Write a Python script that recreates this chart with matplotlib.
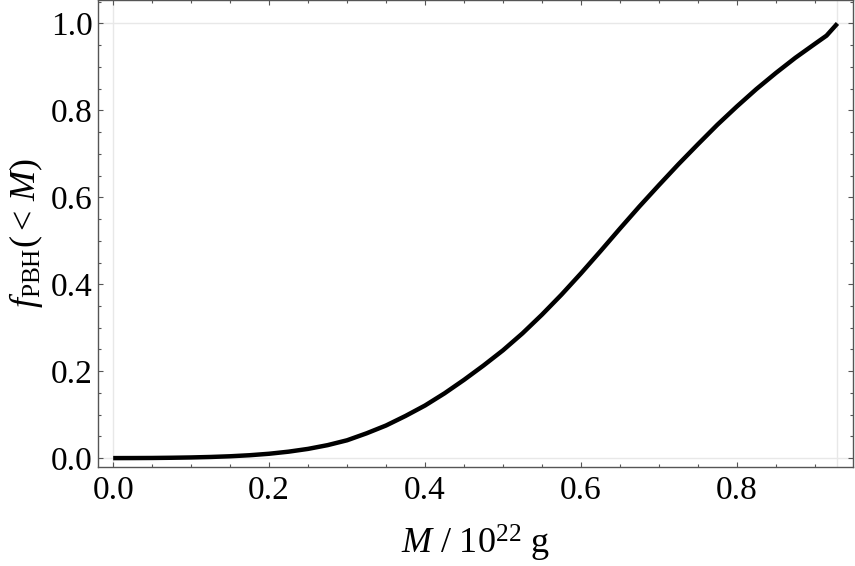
import matplotlib
matplotlib.use('Agg')
import matplotlib.pyplot as plt
import matplotlib.ticker as ticker

plt.rcParams['font.family'] = ['Liberation Serif', 'DejaVu Serif']
plt.rcParams['mathtext.fontset'] = 'custom'
plt.rcParams['mathtext.rm'] = 'Liberation Serif'
plt.rcParams['mathtext.it'] = 'Liberation Serif:italic'

# cumulative PBH fraction
mass = [0.000, 0.025, 0.050, 0.075, 0.100, 0.125, 0.150, 0.175, 0.200, 0.225,
        0.250, 0.275, 0.300, 0.325, 0.350, 0.375, 0.400, 0.425, 0.450, 0.475,
        0.500, 0.525, 0.550, 0.575, 0.600, 0.625, 0.650, 0.675, 0.700, 0.725,
        0.750, 0.775, 0.800, 0.825, 0.850, 0.875, 0.900, 0.915, 0.929]
f_pbh = [0.0, 0.0001, 0.0003, 0.0008, 0.0015, 0.0026, 0.0042, 0.0066, 0.0100, 0.0148,
         0.0212, 0.0298, 0.0410, 0.0570, 0.0750, 0.0970, 0.1210, 0.1490, 0.1800, 0.2130,
         0.2480, 0.2870, 0.3300, 0.3760, 0.4250, 0.4760, 0.5280, 0.5790, 0.6280, 0.6760,
         0.7220, 0.7670, 0.8090, 0.8490, 0.8860, 0.9210, 0.9530, 0.9720, 1.0000]
grid_x = [0.0, 0.929]
grid_y = [0.0, 1.0]

fig = plt.figure(figsize=(8.55, 5.66), dpi=100)
ax = fig.add_axes([0.1146, 0.1749, 0.8831, 0.8251])

for gx in grid_x:
    ax.axvline(gx, color='#e8e8e8', lw=1.0, zorder=0)
for gy in grid_y:
    ax.axhline(gy, color='#e8e8e8', lw=1.0, zorder=0)

ax.plot(mass, f_pbh, color='black', lw=3.2, solid_capstyle='butt', solid_joinstyle='round')

ax.set_xlim(-0.0195, 0.949)
ax.set_ylim(-0.0205, 1.054)
ax.xaxis.set_major_locator(ticker.MultipleLocator(0.2))
ax.xaxis.set_minor_locator(ticker.MultipleLocator(0.05))
ax.yaxis.set_major_locator(ticker.MultipleLocator(0.2))
ax.yaxis.set_minor_locator(ticker.MultipleLocator(0.05))
ax.xaxis.set_major_formatter(ticker.FormatStrFormatter('%.1f'))
ax.yaxis.set_major_formatter(ticker.FormatStrFormatter('%.1f'))

for s in ax.spines.values():
    s.set_color('#555555')
    s.set_linewidth(1.0)
ax.tick_params(which='both', direction='in', top=True, right=True, color='#555555',
               labelsize=24, width=0.8)
ax.tick_params(which='major', length=3.5)
ax.tick_params(which='minor', length=2.0)
ax.tick_params(axis='x', which='major', pad=6)
ax.tick_params(axis='y', which='major', pad=4)

ax.set_xlabel(r'$M\ /\ 10^{22}\ \mathrm{g}$', fontsize=26, labelpad=12)
ax.set_ylabel(r'$f_{\mathrm{PBH}}(<\,M)$', fontsize=26, labelpad=4)

fig.savefig('out.png', dpi=100)
